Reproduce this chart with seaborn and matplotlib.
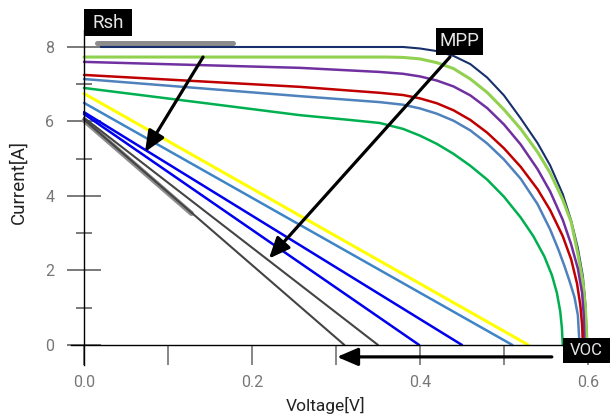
import numpy as np
import pandas as pd
import seaborn as sns
from matplotlib import pyplot as plt
from matplotlib.patches import Rectangle

# curved I-V curves (voltage [V], current [A])
navy_v = [0.020, 0.257, 0.380, 0.400, 0.420, 0.440, 0.460, 0.480, 0.500, 0.520, 0.540, 0.555, 0.570, 0.580, 0.588, 0.594, 0.597, 0.599]
navy_i = [8.00, 8.00, 8.00, 7.96, 7.89, 7.76, 7.54, 7.18, 6.70, 6.08, 5.42, 4.82, 4.05, 3.34, 2.60, 1.84, 1.10, 0.00]

lgreen_v = [0.000, 0.257, 0.360, 0.380, 0.400, 0.420, 0.440, 0.460, 0.480, 0.500, 0.520, 0.540, 0.555, 0.570, 0.580, 0.588, 0.594, 0.597, 0.599]
lgreen_i = [7.73, 7.73, 7.73, 7.72, 7.68, 7.58, 7.42, 7.14, 6.78, 6.32, 5.80, 5.18, 4.62, 3.90, 3.30, 2.45, 1.70, 1.00, 0.00]

purple_v = [0.000, 0.257, 0.352, 0.380, 0.400, 0.420, 0.440, 0.460, 0.480, 0.500, 0.520, 0.540, 0.555, 0.570, 0.580, 0.588, 0.593, 0.595, 0.596]
purple_i = [7.60, 7.44, 7.33, 7.28, 7.21, 7.10, 6.94, 6.70, 6.36, 5.92, 5.38, 4.72, 4.12, 3.36, 2.70, 2.05, 1.40, 0.80, 0.00]

red_v = [0.000, 0.257, 0.352, 0.380, 0.400, 0.420, 0.440, 0.460, 0.480, 0.500, 0.520, 0.540, 0.555, 0.570, 0.580, 0.587, 0.591, 0.593, 0.594]
red_i = [7.25, 6.93, 6.77, 6.71, 6.62, 6.49, 6.30, 6.04, 5.70, 5.28, 4.78, 4.18, 3.62, 2.92, 2.30, 1.65, 1.05, 0.55, 0.00]

steel_v = [0.000, 0.257, 0.352, 0.380, 0.400, 0.420, 0.440, 0.460, 0.480, 0.500, 0.520, 0.540, 0.555, 0.565, 0.572, 0.578, 0.584, 0.588, 0.590]
steel_i = [7.14, 6.68, 6.52, 6.45, 6.35, 6.21, 6.02, 5.76, 5.41, 4.98, 4.46, 3.78, 3.10, 2.55, 2.12, 1.72, 1.28, 0.80, 0.00]

green_v = [0.000, 0.138, 0.257, 0.317, 0.352, 0.380, 0.400, 0.420, 0.440, 0.460, 0.480, 0.500, 0.520, 0.535, 0.548, 0.557, 0.563, 0.567, 0.569, 0.570]
green_i = [6.90, 6.51, 6.17, 6.04, 5.96, 5.80, 5.62, 5.40, 5.13, 4.81, 4.44, 3.98, 3.42, 2.92, 2.38, 1.88, 1.40, 0.90, 0.45, 0.00]

# straight lines: current at 0 V and open-circuit voltage
line_isc = [6.75, 6.50, 6.25, 6.20, 6.10, 6.05]
line_voc = [0.529, 0.510, 0.450, 0.399, 0.350, 0.310]
line_colors = ['#ffff00', '#3d85c6', '#0000ee', '#0000ee', '#444444', '#444444']
line_widths = [2.2, 1.8, 1.8, 1.8, 1.5, 1.5]

curves = [
    (navy_v, navy_i, '#17306b', 1.5),
    (lgreen_v, lgreen_i, '#92d050', 2.2),
    (purple_v, purple_i, '#7030a0', 1.8),
    (red_v, red_i, '#c00000', 1.8),
    (steel_v, steel_i, '#4f81bd', 1.8),
    (green_v, green_i, '#00b050', 1.8),
]

sns.set_style('white')
plt.rcParams['font.family'] = ['Roboto', 'DejaVu Sans']

fig = plt.figure(figsize=(6.1, 4.17), dpi=100)
ax = fig.add_axes([0.1164, 0.1245, 0.875, 0.8039])

# gray tangent bars (Rsh slope)
ax.plot([0.0155, 0.177], [8.10, 8.10], color='#8c8c8c', lw=3.6, solid_capstyle='round', zorder=1)
ax.plot([0.0, 0.128], [6.03, 3.53], color='#8c8c8c', lw=3.6, solid_capstyle='round', zorder=1)

for isc, voc, c, w in zip(line_isc, line_voc, line_colors, line_widths):
    d = pd.DataFrame({'V': [0.0, voc], 'I': [isc, 0.0]})
    sns.lineplot(data=d, x='V', y='I', color=c, lw=w, ax=ax, sort=False, estimator=None)

for v, i, c, w in curves:
    d = pd.DataFrame({'V': v, 'I': i})
    sns.lineplot(data=d, x='V', y='I', color=c, lw=w, ax=ax, sort=False, estimator=None,
                 solid_joinstyle='round')

ax.set_xlim(-0.0155, 0.62)
ax.set_ylim(-0.54, 8.46)

for s in ['top', 'right']:
    ax.spines[s].set_visible(False)
ax.spines['left'].set_position(('data', 0))
ax.spines['bottom'].set_position(('data', 0))
ax.spines['left'].set_color('black')
ax.spines['bottom'].set_color('black')
ax.spines['left'].set_linewidth(1.0)
ax.spines['bottom'].set_linewidth(1.0)

ax.set_xticks([0.0, 0.2, 0.4, 0.6])
ax.set_xticklabels(['0.0', '0.2', '0.4', '0.6'])
ax.set_xticks([0.1, 0.3, 0.5], minor=True)
ax.set_yticks([0, 2, 4, 6, 8])
ax.set_yticklabels(['0', '2', '4', '6', '8'])
ax.set_yticks([1, 3, 5, 7], minor=True)

ax.tick_params(axis='x', which='both', direction='out', length=14.4, width=1.1,
               color='#666666', labelcolor='#777777', labelsize=11.5, pad=7, bottom=True)
ax.tick_params(axis='y', which='major', direction='inout', length=23.8, width=1.1,
               color='#555555', labelcolor='#777777', labelsize=11.5, pad=9.5, left=True)
ax.tick_params(axis='y', which='minor', direction='inout', length=12.2, width=1.1,
               color='#555555', left=True)

ax.set_xlabel('Voltage[V]', fontsize=12.5, color='#222222')
ax.set_ylabel('Current[A]', fontsize=13.5, color='#222222')
ax.xaxis.set_label_coords(0.476, -0.095)
ax.yaxis.set_label_coords(-0.082, 0.546)

# annotation arrows
arrow = dict(arrowstyle='-|>,head_length=0.7,head_width=0.3', color='black', lw=2.3,
             mutation_scale=18, shrinkA=0, shrinkB=0)
ax.annotate('', xy=(0.0726, 5.18), xytext=(0.1417, 7.73), arrowprops=arrow, annotation_clip=False)
ax.annotate('', xy=(0.2202, 2.32), xytext=(0.4357, 7.73), arrowprops=arrow, annotation_clip=False)
ax.annotate('', xy=(0.3012, -0.32), xytext=(0.557, -0.32), arrowprops=arrow, annotation_clip=False)

# black label boxes
boxes = [('Rsh', 0.0, 8.295, 0.0571, 0.725, 13.5),
         ('MPP', 0.419, 7.785, 0.056, 0.725, 13.5),
         ('VOC', 0.570, -0.483, 0.056, 0.671, 12)]
for txt, x0, y0, w, h, fs in boxes:
    ax.add_patch(Rectangle((x0, y0), w, h, facecolor='black', edgecolor='none',
                           clip_on=False, zorder=10))
    ax.text(x0 + w / 2, y0 + h / 2, txt, color='#e6e6e6', fontsize=fs,
            ha='center', va='center', zorder=11, clip_on=False)

fig.savefig('out.png', dpi=100)
